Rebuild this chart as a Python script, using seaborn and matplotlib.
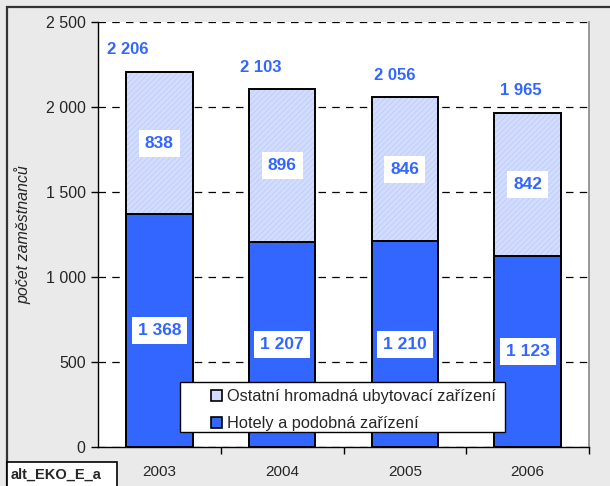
import matplotlib
matplotlib.use("Agg")
import matplotlib.pyplot as plt
from matplotlib.patches import Patch, Rectangle
from matplotlib.ticker import FuncFormatter, FixedLocator
import seaborn as sns

# data
years = ["2003", "2004", "2005", "2006"]
hotely = [1368, 1207, 1210, 1123]
ostatni = [838, 896, 846, 842]
totals = [h + o for h, o in zip(hotely, ostatni)]

label_hotely = "Hotely a podobná zařízení"
label_ostatni = "Ostatní hromadná ubytovací zařízení"

# colours
dark_blue = "#3366ff"
light_blue = "#d2dcff"
hatch_blue = "#bac9f7"
bg_gray = "#eaeaea"


def fmt(v):
    return f"{int(v):,}".replace(",", " ")


sns.set_style("white")
plt.rcParams["font.family"] = ["Liberation Sans", "DejaVu Sans"]
plt.rcParams["hatch.linewidth"] = 0.5

fig = plt.figure(figsize=(6.1, 4.86), dpi=100)
fig.patch.set_facecolor(bg_gray)
ax = fig.add_axes([98 / 610, 39 / 486, 491 / 610, 425 / 486])
ax.set_facecolor("white")

# stacked bars: full height in light hatched blue, hotels drawn over it
sns.barplot(x=years, y=totals, color=light_blue, saturation=1, width=0.54,
            edgecolor=hatch_blue, hatch="//////", linewidth=0, ax=ax, zorder=2)
sns.barplot(x=years, y=totals, color="none", saturation=1, width=0.54,
            edgecolor="black", linewidth=1.4, fill=False, ax=ax, zorder=3)
sns.barplot(x=years, y=hotely, color=dark_blue, saturation=1, width=0.54,
            edgecolor="black", linewidth=1.4, ax=ax, zorder=4)

ax.set_ylim(0, 2500)
ax.set_xlim(-0.5, 3.5)
ax.yaxis.set_major_locator(FixedLocator(range(0, 2501, 500)))
ax.yaxis.set_major_formatter(FuncFormatter(lambda v, p: fmt(v)))
ax.yaxis.grid(True, color="black", linestyle=(0, (6, 5)), linewidth=0.9)
ax.set_axisbelow(True)

# x ticks sit between categories
ax.set_xticks(range(len(years)))
ax.set_xticklabels(years)
ax.set_xticks([0.5, 1.5, 2.5, 3.5], minor=True)
ax.tick_params(axis="x", which="major", length=0, labelsize=11, pad=13)
ax.tick_params(axis="x", which="minor", length=5, width=1, color="black",
               direction="out", bottom=True)
ax.tick_params(axis="y", length=5, width=1, color="black", direction="out",
               left=True, labelsize=11.5, pad=4)
ax.set_xlabel("")
ax.set_ylabel("počet zaměstnanců", fontsize=11.5, style="italic", labelpad=10)

for side in ["left", "bottom"]:
    ax.spines[side].set_color("black")
    ax.spines[side].set_linewidth(1)
ax.spines["top"].set_visible(False)
ax.spines["right"].set_color("#888888")
ax.spines["right"].set_linewidth(1.2)

# value labels inside segments
box = dict(boxstyle="square,pad=0.35", fc="white", ec="none")
for i, (h, o) in enumerate(zip(hotely, ostatni)):
    ax.text(i, h / 2, fmt(h), ha="center", va="center", color=dark_blue,
            fontsize=12.5, fontweight="bold", bbox=box, zorder=6)
    ax.text(i, h + o / 2, fmt(o), ha="center", va="center", color=dark_blue,
            fontsize=12.5, fontweight="bold", bbox=box, zorder=6)

# totals above the bars (Excel put them slightly left of centre)
total_shift = [-32, -21, -10, -7]
for i, t in enumerate(totals):
    ax.annotate(fmt(t), xy=(i, t), xytext=(total_shift[i] * 0.72, 10.5),
                textcoords="offset points", ha="center", va="bottom",
                color=dark_blue, fontsize=12, fontweight="bold", zorder=6)

# legend: own frame box, entries placed inside it like Excel does
ax.add_patch(Rectangle((82 / 491, 15 / 425), 325 / 491, 50 / 425,
                       transform=ax.transAxes, facecolor="white",
                       edgecolor="black", linewidth=1, zorder=7))
handles = [
    Patch(facecolor=light_blue, edgecolor="black", linewidth=1.2, label=label_ostatni),
    Patch(facecolor=dark_blue, edgecolor="black", linewidth=1.2, label=label_hotely),
]
leg = ax.legend(handles=handles, loc="lower left",
                bbox_to_anchor=(113 / 491, 16 / 425), fontsize=11.8,
                handlelength=0.7, handleheight=0.7, handletextpad=0.25,
                labelspacing=0.72, borderpad=0, borderaxespad=0,
                frameon=False)
leg.set_zorder(8)

# outer frame and the sheet tag in the corner
fig.add_artist(Rectangle((7 / 610, -0.1), 1.2, (479 / 486) + 0.1,
                         transform=fig.transFigure, fill=False,
                         edgecolor="#333333", linewidth=1.6))
fig.add_artist(Rectangle((7 / 610, -0.1), 110 / 610, (24 / 486) + 0.1,
                         transform=fig.transFigure, facecolor="white",
                         edgecolor="black", linewidth=1.2))
fig.text(11 / 610, 11 / 486, "alt_EKO_E_a", fontsize=10.5, fontweight="bold",
         ha="left", va="center")

fig.savefig("out.png", dpi=100, facecolor=fig.get_facecolor())
